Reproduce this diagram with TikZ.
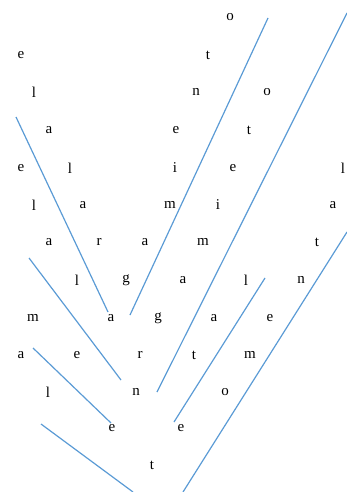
\documentclass[tikz,border=0pt]{standalone}
\usepackage{fontspec}
\setmainfont{Liberation Serif}
\definecolor{lineblue}{RGB}{91,155,213}
\begin{document}
\begin{tikzpicture}[x=1pt,y=-1pt,
  ch/.style={inner sep=0pt,font=\fontsize{15}{15}\selectfont,anchor=center},
  stroke/.style={draw=lineblue,line width=1.2pt}]
\useasboundingbox (0,0) rectangle (347,492);
% row 1
\node[ch] (r1a) at (230,17) {o};
% row 2
\node[ch] (r2a) at (21,55) {e};
\node[ch] (r2b) at (208,55) {t};
% row 3
\node[ch] (r3a) at (34,92) {l};
\node[ch] (r3b) at (196,92) {n};
\node[ch] (r3c) at (267,92) {o};
% row 4
\node[ch] (r4a) at (49,130) {a};
\node[ch] (r4b) at (176,130) {e};
\node[ch] (r4c) at (249,130) {t};
% row 5
\node[ch] (r5a) at (21,168) {e};
\node[ch] (r5b) at (70,168) {l};
\node[ch] (r5c) at (175,168) {i};
\node[ch] (r5d) at (233,168) {e};
\node[ch] (r5e) at (343,168) {l};
% row 6
\node[ch] (r6a) at (34,205) {l};
\node[ch] (r6b) at (83,205) {a};
\node[ch] (r6c) at (170,205) {m};
\node[ch] (r6d) at (218,205) {i};
\node[ch] (r6e) at (333,205) {a};
% row 7
\node[ch] (r7a) at (49,242) {a};
\node[ch] (r7b) at (99,242) {r};
\node[ch] (r7c) at (145,242) {a};
\node[ch] (r7d) at (203,242) {m};
\node[ch] (r7e) at (317,242) {t};
% row 8
\node[ch] (r8a) at (77,280) {l};
\node[ch] (r8b) at (126,280) {g};
\node[ch] (r8c) at (183,280) {a};
\node[ch] (r8d) at (246,280) {l};
\node[ch] (r8e) at (301,280) {n};
% row 9
\node[ch] (r9a) at (33,318) {m};
\node[ch] (r9b) at (111,318) {a};
\node[ch] (r9c) at (158,318) {g};
\node[ch] (r9d) at (214,318) {a};
\node[ch] (r9e) at (270,318) {e};
% row 10
\node[ch] (r10a) at (21,355) {a};
\node[ch] (r10b) at (77,355) {e};
\node[ch] (r10c) at (140,355) {r};
\node[ch] (r10d) at (194,355) {t};
\node[ch] (r10e) at (250,355) {m};
% row 11
\node[ch] (r11a) at (48,392) {l};
\node[ch] (r11b) at (136,392) {n};
\node[ch] (r11c) at (225,392) {o};
% row 12
\node[ch] (r12a) at (112,428) {e};
\node[ch] (r12b) at (181,428) {e};
% row 13
\node[ch] (r13a) at (152,465) {t};
% line end points
\coordinate (l1s) at (16,117);  \coordinate (l1e) at (108,312);
\coordinate (l2s) at (268,18);  \coordinate (l2e) at (130,315);
\coordinate (l3s) at (347,13);  \coordinate (l3e) at (157,392);
\coordinate (l4s) at (265,278); \coordinate (l4e) at (174,422);
\coordinate (l5s) at (347,232); \coordinate (l5e) at (183,492);
\coordinate (l6s) at (29,258);  \coordinate (l6e) at (121,380);
\coordinate (l7s) at (33,348);  \coordinate (l7e) at (111,423);
\coordinate (l8s) at (41,424);  \coordinate (l8e) at (133,492);
\begin{scope}
\clip (0,0) rectangle (347,492);
\draw[stroke] (l1s) -- (l1e);
\draw[stroke] (l2s) -- (l2e);
\draw[stroke] (l3s) -- (l3e);
\draw[stroke] (l4s) -- (l4e);
\draw[stroke] (l5s) -- (l5e);
\draw[stroke] (l6s) -- (l6e);
\draw[stroke] (l7s) -- (l7e);
\draw[stroke] (l8s) -- (l8e);
\end{scope}
\end{tikzpicture}
\end{document}
